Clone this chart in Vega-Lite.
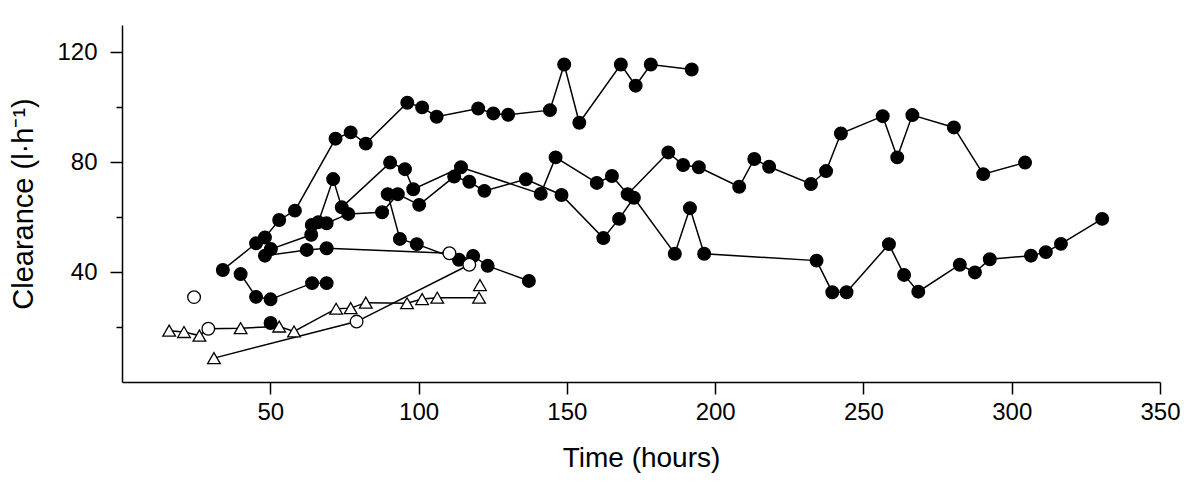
{
  "$schema": "https://vega.github.io/schema/vega-lite/v6.json",
  "width": 1038,
  "height": 357,
  "autosize": {"type": "none"},
  "padding": {"left": 122, "top": 25, "right": 40, "bottom": 101},
  "background": "white",
  "config": {
    "view": {"stroke": null},
    "axis": {
      "grid": false,
      "domainColor": "black",
      "domainWidth": 1.5,
      "tickColor": "black",
      "tickWidth": 1.5,
      "labelColor": "black",
      "labelFont": "Liberation Sans",
      "labelFontSize": 24,
      "titleColor": "black",
      "titleFont": "Liberation Sans",
      "titleFontSize": 28,
      "titleFontWeight": "normal"
    }
  },
  "data": {
    "values": [
      {"series": "A", "time": 34.0, "clearance": 40.8, "marker": "filled"},
      {"series": "A", "time": 45.2, "clearance": 50.5, "marker": "filled"},
      {"series": "A", "time": 48.2, "clearance": 52.6, "marker": "filled"},
      {"series": "A", "time": 53.0, "clearance": 59.0, "marker": "filled"},
      {"series": "A", "time": 58.3, "clearance": 62.4, "marker": "filled"},
      {"series": "A", "time": 72.0, "clearance": 88.6, "marker": "filled"},
      {"series": "A", "time": 77.1, "clearance": 90.9, "marker": "filled"},
      {"series": "A", "time": 82.2, "clearance": 86.8, "marker": "filled"},
      {"series": "A", "time": 96.2, "clearance": 101.7, "marker": "filled"},
      {"series": "A", "time": 101.2, "clearance": 100.0, "marker": "filled"},
      {"series": "A", "time": 106.1, "clearance": 96.6, "marker": "filled"},
      {"series": "A", "time": 120.1, "clearance": 99.6, "marker": "filled"},
      {"series": "A", "time": 125.2, "clearance": 97.8, "marker": "filled"},
      {"series": "A", "time": 130.2, "clearance": 97.3, "marker": "filled"},
      {"series": "A", "time": 144.3, "clearance": 99.0, "marker": "filled"},
      {"series": "A", "time": 149.1, "clearance": 115.6, "marker": "filled"},
      {"series": "A", "time": 154.2, "clearance": 94.4, "marker": "filled"},
      {"series": "A", "time": 168.2, "clearance": 115.6, "marker": "filled"},
      {"series": "A", "time": 173.2, "clearance": 107.9, "marker": "filled"},
      {"series": "A", "time": 178.3, "clearance": 115.6, "marker": "filled"},
      {"series": "A", "time": 192.1, "clearance": 113.8, "marker": "filled"},

      {"series": "B", "time": 50.2, "clearance": 48.4, "marker": "filled"},
      {"series": "B", "time": 63.8, "clearance": 53.6, "marker": "filled"},
      {"series": "B", "time": 66.2, "clearance": 58.2, "marker": "filled"},
      {"series": "B", "time": 71.2, "clearance": 73.9, "marker": "filled"},
      {"series": "B", "time": 74.1, "clearance": 63.6, "marker": "filled"},
      {"series": "B", "time": 90.4, "clearance": 79.9, "marker": "filled"},
      {"series": "B", "time": 95.4, "clearance": 77.5, "marker": "filled"},
      {"series": "B", "time": 98.2, "clearance": 70.2, "marker": "filled"},
      {"series": "B", "time": 114.3, "clearance": 78.2, "marker": "filled"},
      {"series": "B", "time": 141.2, "clearance": 68.5, "marker": "filled"},
      {"series": "B", "time": 146.2, "clearance": 81.8, "marker": "filled"},
      {"series": "B", "time": 160.1, "clearance": 72.5, "marker": "filled"},
      {"series": "B", "time": 165.2, "clearance": 75.0, "marker": "filled"},
      {"series": "B", "time": 170.5, "clearance": 68.4, "marker": "filled"},
      {"series": "B", "time": 184.2, "clearance": 83.6, "marker": "filled"},
      {"series": "B", "time": 189.2, "clearance": 79.0, "marker": "filled"},
      {"series": "B", "time": 194.5, "clearance": 78.2, "marker": "filled"},
      {"series": "B", "time": 208.1, "clearance": 71.1, "marker": "filled"},
      {"series": "B", "time": 213.2, "clearance": 81.2, "marker": "filled"},
      {"series": "B", "time": 218.2, "clearance": 78.4, "marker": "filled"},
      {"series": "B", "time": 232.3, "clearance": 72.1, "marker": "filled"},
      {"series": "B", "time": 237.4, "clearance": 76.8, "marker": "filled"},
      {"series": "B", "time": 242.4, "clearance": 90.5, "marker": "filled"},
      {"series": "B", "time": 256.5, "clearance": 96.8, "marker": "filled"},
      {"series": "B", "time": 261.4, "clearance": 81.8, "marker": "filled"},
      {"series": "B", "time": 266.5, "clearance": 97.2, "marker": "filled"},
      {"series": "B", "time": 280.5, "clearance": 92.7, "marker": "filled"},
      {"series": "B", "time": 290.4, "clearance": 75.7, "marker": "filled"},
      {"series": "B", "time": 304.5, "clearance": 79.9, "marker": "filled"},

      {"series": "C", "time": 64.0, "clearance": 57.2, "marker": "filled"},
      {"series": "C", "time": 69.0, "clearance": 57.8, "marker": "filled"},
      {"series": "C", "time": 76.3, "clearance": 61.2, "marker": "filled"},
      {"series": "C", "time": 87.7, "clearance": 61.8, "marker": "filled"},
      {"series": "C", "time": 93.0, "clearance": 68.4, "marker": "filled"},
      {"series": "C", "time": 100.2, "clearance": 64.5, "marker": "filled"},
      {"series": "C", "time": 112.0, "clearance": 74.8, "marker": "filled"},
      {"series": "C", "time": 117.1, "clearance": 72.9, "marker": "filled"},
      {"series": "C", "time": 122.2, "clearance": 69.6, "marker": "filled"},
      {"series": "C", "time": 136.2, "clearance": 73.8, "marker": "filled"},
      {"series": "C", "time": 148.2, "clearance": 68.1, "marker": "filled"},
      {"series": "C", "time": 162.3, "clearance": 52.4, "marker": "filled"},
      {"series": "C", "time": 167.6, "clearance": 59.4, "marker": "filled"},
      {"series": "C", "time": 172.6, "clearance": 67.1, "marker": "filled"},
      {"series": "C", "time": 186.4, "clearance": 46.7, "marker": "filled"},
      {"series": "C", "time": 191.5, "clearance": 63.3, "marker": "filled"},
      {"series": "C", "time": 196.3, "clearance": 46.7, "marker": "filled"},
      {"series": "C", "time": 234.2, "clearance": 44.2, "marker": "filled"},
      {"series": "C", "time": 239.5, "clearance": 32.7, "marker": "filled"},
      {"series": "C", "time": 244.3, "clearance": 32.7, "marker": "filled"},
      {"series": "C", "time": 258.6, "clearance": 50.2, "marker": "filled"},
      {"series": "C", "time": 263.7, "clearance": 39.0, "marker": "filled"},
      {"series": "C", "time": 268.5, "clearance": 32.9, "marker": "filled"},
      {"series": "C", "time": 282.5, "clearance": 42.7, "marker": "filled"},
      {"series": "C", "time": 287.6, "clearance": 39.9, "marker": "filled"},
      {"series": "C", "time": 292.6, "clearance": 44.7, "marker": "filled"},
      {"series": "C", "time": 306.5, "clearance": 46.0, "marker": "filled"},
      {"series": "C", "time": 311.5, "clearance": 47.3, "marker": "filled"},
      {"series": "C", "time": 316.6, "clearance": 50.3, "marker": "filled"},
      {"series": "C", "time": 330.5, "clearance": 59.4, "marker": "filled"},

      {"series": "D", "time": 89.6, "clearance": 68.4, "marker": "filled"},
      {"series": "D", "time": 93.7, "clearance": 52.1, "marker": "filled"},
      {"series": "D", "time": 99.4, "clearance": 50.2, "marker": "filled"},
      {"series": "D", "time": 113.6, "clearance": 44.5, "marker": "filled"},
      {"series": "D", "time": 118.4, "clearance": 45.9, "marker": "filled"},
      {"series": "D", "time": 123.3, "clearance": 42.3, "marker": "filled"},
      {"series": "D", "time": 137.2, "clearance": 36.8, "marker": "filled"},

      {"series": "E", "time": 48.2, "clearance": 46.0, "marker": "filled"},
      {"series": "E", "time": 62.3, "clearance": 48.1, "marker": "filled"},
      {"series": "E", "time": 69.0, "clearance": 48.7, "marker": "filled"},
      {"series": "E", "time": 110.4, "clearance": 46.9, "marker": "open"},

      {"series": "F", "time": 40.0, "clearance": 39.3, "marker": "filled"},
      {"series": "F", "time": 45.2, "clearance": 31.0, "marker": "filled"},
      {"series": "F", "time": 50.1, "clearance": 30.1, "marker": "filled"},
      {"series": "F", "time": 64.1, "clearance": 36.0, "marker": "filled"},
      {"series": "F", "time": 69.0, "clearance": 36.0, "marker": "filled"},

      {"series": "G", "time": 15.9, "clearance": 18.7, "marker": "triangle"},
      {"series": "G", "time": 20.9, "clearance": 18.2, "marker": "triangle"},
      {"series": "G", "time": 26.1, "clearance": 16.9, "marker": "triangle"},
      {"series": "G", "time": 29.1, "clearance": 19.4, "marker": "open"},
      {"series": "G", "time": 40.0, "clearance": 19.6, "marker": "triangle"},
      {"series": "G", "time": 53.0, "clearance": 20.2, "marker": "triangle"},
      {"series": "G", "time": 58.0, "clearance": 18.4, "marker": "triangle"},
      {"series": "G", "time": 72.2, "clearance": 26.7, "marker": "triangle"},
      {"series": "G", "time": 77.1, "clearance": 26.9, "marker": "triangle"},
      {"series": "G", "time": 82.2, "clearance": 28.9, "marker": "triangle"},
      {"series": "G", "time": 96.1, "clearance": 28.7, "marker": "triangle"},
      {"series": "G", "time": 101.2, "clearance": 30.2, "marker": "triangle"},
      {"series": "G", "time": 106.3, "clearance": 30.7, "marker": "triangle"},
      {"series": "G", "time": 120.4, "clearance": 30.7, "marker": "triangle"},

      {"series": "H", "time": 31.0, "clearance": 8.7, "marker": "triangle"},
      {"series": "H", "time": 79.1, "clearance": 22.0, "marker": "open"},
      {"series": "H", "time": 117.1, "clearance": 42.7, "marker": "open"},

      {"series": "I", "time": 24.3, "clearance": 30.9, "marker": "open"},
      {"series": "J", "time": 50.1, "clearance": 21.5, "marker": "filled"},
      {"series": "K", "time": 120.7, "clearance": 35.3, "marker": "triangle"}
    ]
  },
  "resolve": {"axis": {"y": "independent"}},
  "layer": [
    {
      "mark": {"type": "line", "color": "black", "strokeWidth": 1.5},
      "encoding": {
        "x": {
          "field": "time",
          "type": "quantitative",
          "scale": {"domain": [0, 350], "nice": false, "zero": false},
          "axis": {
            "values": [50, 100, 150, 200, 250, 300, 350],
            "title": "Time (hours)",
            "tickSize": 12,
            "labelPadding": 6,
            "titlePadding": 20,
            "labelFlush": false,
            "labelOverlap": false
          }
        },
        "y": {
          "field": "clearance",
          "type": "quantitative",
          "scale": {"domain": [0, 130], "nice": false, "zero": false},
          "axis": {
            "orient": "left",
            "values": [40, 80, 120],
            "title": "Clearance (l·h⁻¹)",
            "titleFontSize": 29,
            "tickSize": 12,
            "labelPadding": 13,
            "titlePadding": 18,
            "labelFlush": false
          }
        },
        "detail": {"field": "series", "type": "nominal"}
      }
    },
    {
      "mark": {"type": "point", "filled": true, "stroke": "black", "strokeWidth": 1.3, "opacity": 1},
      "encoding": {
        "x": {
          "field": "time",
          "type": "quantitative",
          "axis": {
            "values": [50, 100, 150, 200, 250, 300, 350],
            "title": "Time (hours)",
            "tickSize": 12,
            "labelPadding": 6,
            "titlePadding": 20,
            "labelFlush": false,
            "labelOverlap": false
          }
        },
        "y": {
          "field": "clearance",
          "type": "quantitative",
          "axis": {
            "orient": "left",
            "values": [20, 60, 100],
            "labels": false,
            "domain": false,
            "tickSize": 6,
            "title": null
          }
        },
        "shape": {
          "field": "marker",
          "type": "nominal",
          "scale": {"domain": ["filled", "open", "triangle"], "range": ["circle", "circle", "triangle-up"]},
          "legend": null
        },
        "fill": {
          "field": "marker",
          "type": "nominal",
          "scale": {"domain": ["filled", "open", "triangle"], "range": ["black", "white", "white"]},
          "legend": null
        },
        "size": {
          "field": "marker",
          "type": "nominal",
          "scale": {"domain": ["filled", "open", "triangle"], "range": [160, 160, 330]},
          "legend": null
        }
      }
    }
  ]
}
